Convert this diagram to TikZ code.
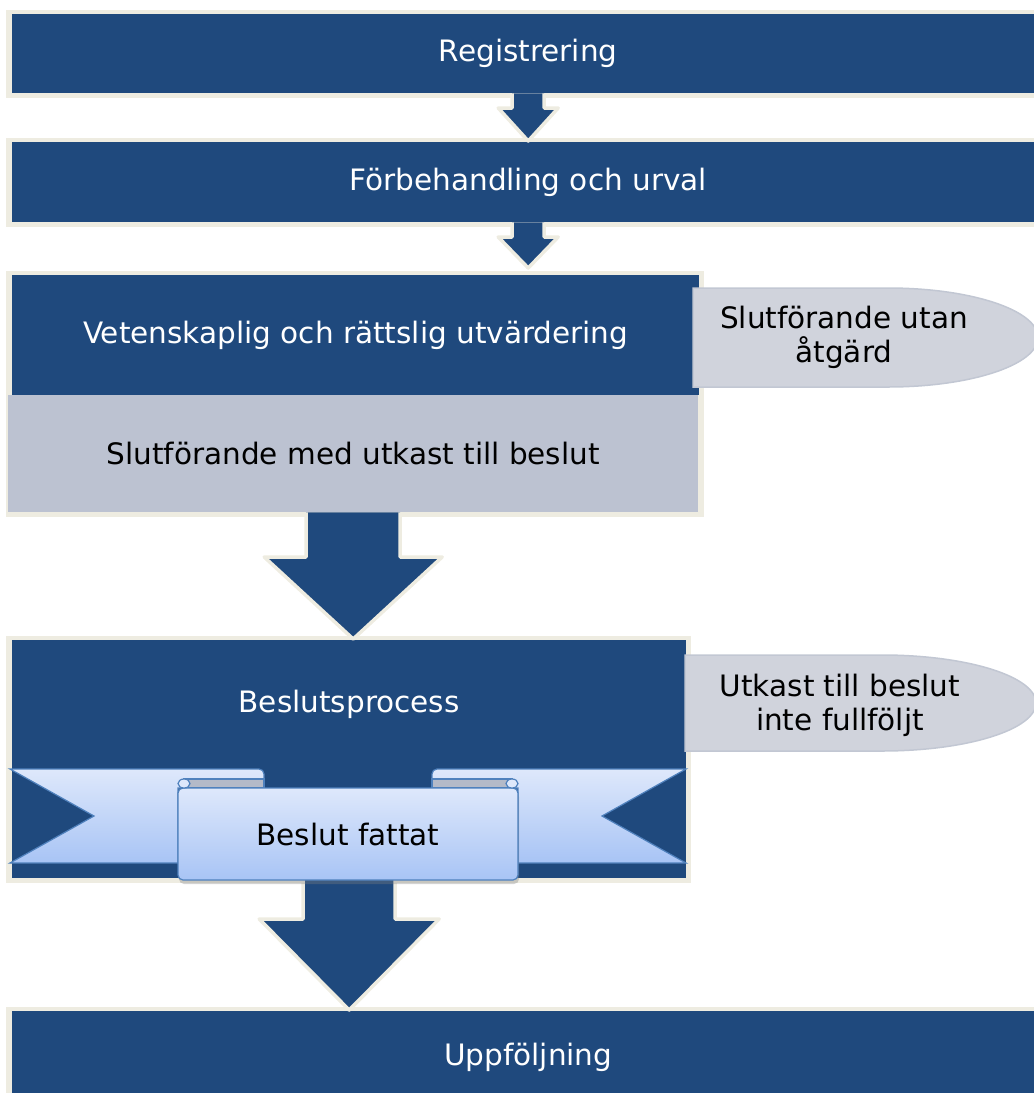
\documentclass[tikz,border=0pt]{standalone}
\usepackage{fontspec}
\setmainfont{DejaVu Sans}
\usetikzlibrary{calc,shadows}
\pgfdeclarelayer{bg}
\pgfsetlayers{bg,main}

\definecolor{dkblue}{RGB}{31,73,125}
\definecolor{cream}{RGB}{238,236,225}
\definecolor{closegray}{RGB}{188,194,209}
\definecolor{sidegray}{RGB}{208,211,220}
\definecolor{sideedge}{RGB}{194,199,211}
\definecolor{ribbonedge}{RGB}{79,129,189}
\definecolor{ribbontop}{RGB}{222,232,251}
\definecolor{ribbonbot}{RGB}{168,196,245}
\definecolor{foldgray}{RGB}{180,186,200}

\begin{document}
\begin{tikzpicture}[x=1pt, y=-1pt,
  every node/.style={font=\fontsize{29.5}{34}\selectfont, inner sep=0pt},
  stage/.style={fill=dkblue, text=white, anchor=north west},
  closing/.style={fill=closegray, text=black, anchor=north west},
  bigarrow/.style={fill=dkblue, draw=cream, line width=3.5pt, line join=round},
  sidecap/.style={fill=sidegray, draw=sideedge, line width=1.5pt},
  band/.style={top color=ribbontop, bottom color=ribbonbot, draw=ribbonedge, line width=1.2pt},
  fold/.style={fill=foldgray, draw=ribbonedge, line width=1.2pt},
  front/.style={top color=ribbontop, bottom color=ribbonbot, draw=ribbonedge, line width=1.2pt,
    rounded corners=5, minimum width=340, minimum height=92,
    drop shadow={shadow xshift=1pt, shadow yshift=-4pt, opacity=0.35}}]

\path[use as bounding box, clip] (0,0) rectangle (1034,1093);

\node[stage, minimum width=1032, minimum height=79] (reg) at (12,14) {Registrering};
\node[stage, minimum width=1032, minimum height=80] (forb) at (12,142) {Förbehandling och urval};
\node[stage, minimum width=687, minimum height=120] (vet) at (12,275) {Vetenskaplig och rättslig utvärdering};
\node[closing, minimum width=690, minimum height=117] (slutmed) at (8,395) {Slutförande med utkast till beslut};
\node[stage, minimum width=674, minimum height=128] (besl) at (12,640) {Beslutsprocess};
\node[stage, minimum width=1032, minimum height=92] (upp) at (12,1011) {Uppföljning};

\coordinate (beslbot) at ($(besl.south)+(0,110)$);
\coordinate (beslse) at ($(besl.south east)+(0,110)$);
\coordinate (vetse) at (slutmed.south -| vet.east);

% cream frames
\begin{pgfonlayer}{bg}
\foreach \n in {reg,forb,upp}
  \fill[cream] ($(\n.north west)+(-6,-4)$) rectangle ($(\n.south east)+(5,5)$);
\fill[cream] ($(vet.north west)+(-6,-4)$) rectangle ($(vetse)+(5,5)$);
\fill[cream] ($(besl.north west)+(-6,-4)$) rectangle ($(beslse)+(5,5)$);
\fill[dkblue] (besl.south west) rectangle (beslse);
\end{pgfonlayer}

\draw[bigarrow] let \p1=(reg.south), \p2=(forb.north) in
  (\x1-16pt,\y1) -- (\x1-16pt,\y2+34pt) -- (\x1-30pt,\y2+34pt) -- (\x1,\y2+1pt)
  -- (\x1+30pt,\y2+34pt) -- (\x1+16pt,\y2+34pt) -- (\x1+16pt,\y1);
\draw[bigarrow] let \p1=(forb.south), \p2=(vet.north) in
  (\x1-16pt,\y1) -- (\x1-16pt,\y2+38pt) -- (\x1-30pt,\y2+38pt) -- (\x1,\y2+7pt)
  -- (\x1+30pt,\y2+38pt) -- (\x1+16pt,\y2+38pt) -- (\x1+16pt,\y1);
\draw[bigarrow] let \p1=(slutmed.south), \p2=(besl.north) in
  (\x1-47pt,\y1) -- (\x1-47pt,\y2+83pt) -- (\x1-89pt,\y2+83pt) -- (\x1,\y2+1pt)
  -- (\x1+89pt,\y2+83pt) -- (\x1+47pt,\y2+83pt) -- (\x1+47pt,\y1);
\draw[bigarrow] let \p1=(beslbot), \p2=(upp.north) in
  (\x1-46pt,\y1) -- (\x1-46pt,\y2+92pt) -- (\x1-90pt,\y2+92pt) -- (\x1,\y2+1pt)
  -- (\x1+90pt,\y2+92pt) -- (\x1+46pt,\y2+92pt) -- (\x1+46pt,\y1);

% side exits
\filldraw[sidecap] (693,288) -- (888,288) arc[start angle=-90, end angle=90, x radius=150, y radius=49.5] -- (693,387) -- cycle;
\node[align=center] (utan) at (844,337) {Slutförande utan\\åtgärd};
\filldraw[sidecap] (685,655) -- (882,655) arc[start angle=-90, end angle=90, x radius=154, y radius=48] -- (685,751) -- cycle;
\node[align=center] (ofull) at (840,705) {Utkast till beslut\\inte fullföljt};

% ribbon
\filldraw[band] (10,769) -- (259,769) arc[start angle=-90, end angle=0, radius=5] -- (264,788)
  -- (178,788) -- (178,863) -- (10,863) -- (94,816) -- cycle;
\filldraw[band] (686,769) -- (437,769) arc[start angle=-90, end angle=-180, radius=5] -- (432,788)
  -- (518,788) -- (518,863) -- (686,863) -- (602,816) -- cycle;
\filldraw[fold] (184,779) rectangle (264,788);
\filldraw[fold] (432,779) rectangle (512,788);
\node[front] (fatt) at (348,834) {Beslut fattat};
\filldraw[fill=ribbontop, draw=ribbonedge, line width=1.2pt] (184,783.5) ellipse[x radius=6, y radius=4.5];
\filldraw[fill=ribbontop, draw=ribbonedge, line width=1.2pt] (512,783.5) ellipse[x radius=6, y radius=4.5];

\end{tikzpicture}
\end{document}
